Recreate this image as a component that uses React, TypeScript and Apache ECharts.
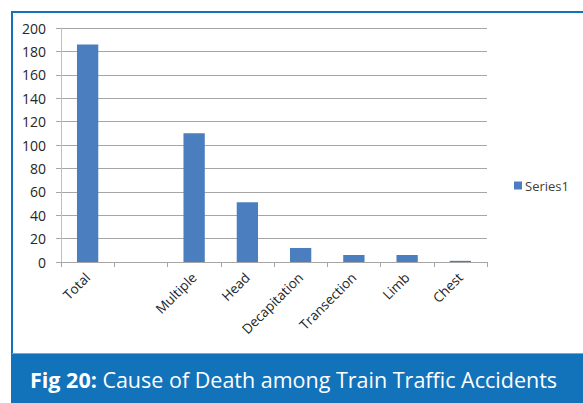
import React, { useEffect, useRef } from "react";
import * as echarts from "echarts";

const categories = ["Total", "", "Multiple", "Head", "Decapitation", "Transection", "Limb", "Chest"];
const series1 = [186, null, 110, 51, 12, 6, 6, 1];
const seriesName = "Series1";
const caption = { bold: "Fig 20:", rest: " Cause of Death among Train Traffic Accidents" };

export default function App() {
  const ref = useRef<HTMLDivElement>(null);
  useEffect(() => {
    document.body.style.margin = "0";
    const chart = echarts.init(ref.current!, null, { renderer: "svg" });
    const blue = "#1272BA";
    chart.setOption({
      animation: false,
      backgroundColor: "#ffffff",
      grid: { left: 61, top: 28, right: 96, bottom: 141, containLabel: false },
      legend: {
        show: true,
        left: 509,
        top: 174,
        icon: "rect",
        itemWidth: 8,
        itemHeight: 8,
        itemGap: 4,
        textStyle: { fontFamily: "Open Sans", fontSize: 13, color: "#404040", padding: [0, 0, 0, -2] },
        data: [seriesName],
      },
      xAxis: {
        type: "category",
        data: categories,
        axisLine: { lineStyle: { color: "#A6A6A6", width: 1 } },
        axisTick: { show: true, length: 5, lineStyle: { color: "#A6A6A6" }, alignWithLabel: false },
        axisLabel: {
          interval: 0,
          rotate: 45,
          margin: 13,
          fontFamily: "Open Sans",
          fontSize: 13.5,
          color: "#262626",
        },
      },
      yAxis: {
        type: "value",
        min: 0,
        max: 200,
        interval: 20,
        axisLine: { show: true, lineStyle: { color: "#BFBFBF" } },
        axisTick: { show: true, length: 5, lineStyle: { color: "#A6A6A6" } },
        axisLabel: { fontFamily: "Open Sans", fontSize: 14, color: "#262626", margin: 15 },
        splitLine: { lineStyle: { color: "#A6A6A6", width: 1 } },
      },
      series: [
        {
          name: seriesName,
          type: "bar",
          data: series1,
          barWidth: "40%",
          itemStyle: { color: "#4A7EBF" },
        },
      ],
      graphic: [
        { type: "rect", shape: { x: 11, y: 11, width: 572, height: 2 }, style: { fill: blue } },
        { type: "rect", shape: { x: 11, y: 11, width: 2, height: 392 }, style: { fill: blue } },
        { type: "rect", shape: { x: 12, y: 353, width: 571, height: 1 }, style: { fill: "#9E9E9E" } },
        { type: "rect", shape: { x: 11, y: 354, width: 572, height: 49 }, style: { fill: blue } },
        {
          type: "text",
          x: 30,
          y: 379,
          style: {
            text: "{b|" + caption.bold + "}{r|" + caption.rest + "}",
            verticalAlign: "middle",
            rich: {
              b: { fontFamily: "Open Sans", fontWeight: "bold", fontSize: 21.5, fill: "#ffffff", color: "#ffffff" },
              r: { fontFamily: "Open Sans", fontSize: 21.5, fill: "#ffffff", color: "#ffffff" },
            },
          },
        },
      ],
    });
    return () => chart.dispose();
  }, []);
  return <div ref={ref} style={{ width: 583, height: 403 }} />;
}
